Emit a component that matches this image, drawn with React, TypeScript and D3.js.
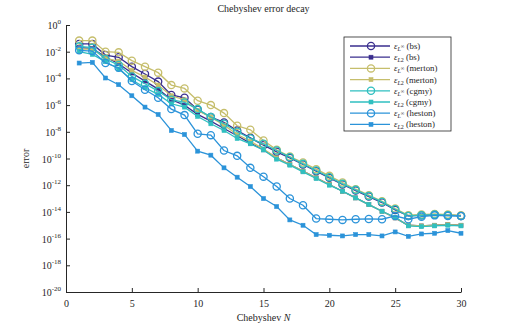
import React, { useRef, useEffect } from 'react';
import * as d3 from 'd3';

// Chebyshev degree N
const orders = d3.range(1, 31);

// errors, stored as log10 exponents
const bsLinf = [-1.42, -1.42, -2.25, -2.42, -3.12, -3.67, -4.24, -5.24, -5.45, -6.35, -6.9, -7.3, -7.9, -8.45, -9.0, -9.5, -9.95, -10.45, -10.95, -11.45, -11.95, -12.4, -12.85, -13.3, -13.85, -14.3, -14.25, -14.2, -14.25, -14.3];
const bsL2 = [-1.7, -1.75, -2.4, -2.9, -3.6, -4.2, -4.8, -5.6, -6.0, -6.7, -7.2, -7.75, -8.3, -8.85, -9.35, -9.95, -10.45, -10.95, -11.45, -11.95, -12.45, -12.95, -13.45, -13.95, -14.45, -15.0, -15.05, -15.0, -14.95, -15.0];
const mertonLinf = [-1.17, -1.17, -2.0, -2.05, -2.67, -3.12, -3.57, -4.5, -4.75, -5.67, -6.0, -6.6, -7.55, -7.85, -8.65, -9.35, -9.85, -10.3, -10.8, -11.3, -11.8, -12.3, -12.75, -13.2, -13.75, -14.25, -14.2, -14.15, -14.2, -14.25];
const mertonL2 = [-1.8, -1.8, -2.5, -2.7, -3.4, -3.9, -4.5, -5.3, -5.6, -6.4, -6.9, -7.5, -8.2, -8.7, -9.3, -9.95, -10.45, -10.95, -11.45, -11.95, -12.45, -12.95, -13.45, -13.95, -14.45, -15.0, -15.05, -15.0, -14.95, -15.0];
const cgmyLinf = [-1.6, -1.7, -2.55, -3.0, -3.85, -4.4, -4.95, -5.6, -5.8, -6.3, -6.9, -7.4, -8.0, -8.5, -8.9, -9.4, -9.9, -10.4, -10.9, -11.4, -11.9, -12.35, -12.8, -13.25, -13.8, -14.3, -14.25, -14.2, -14.25, -14.3];
const cgmyL2 = [-2.0, -2.2, -2.75, -3.3, -4.1, -4.7, -5.2, -5.9, -6.15, -6.85, -7.4, -7.9, -8.5, -8.9, -9.36, -10.05, -10.5, -11.0, -11.5, -12.0, -12.45, -12.95, -13.45, -13.95, -14.4, -15.05, -15.1, -15.05, -15.0, -15.05];
const hestonLinf = [-1.9, -1.95, -2.85, -3.2, -4.2, -4.85, -5.45, -6.3, -6.75, -8.15, -8.25, -9.4, -9.8, -10.7, -11.36, -12.1, -13.0, -13.5, -14.5, -14.55, -14.6, -14.55, -14.53, -14.55, -14.3, -14.55, -14.36, -14.26, -14.3, -14.3];
const hestonL2 = [-2.85, -2.8, -3.97, -4.47, -5.3, -6.15, -6.7, -7.9, -8.2, -9.45, -9.75, -10.7, -11.4, -12.1, -13.0, -13.6, -14.6, -15.0, -15.7, -15.75, -15.8, -15.7, -15.7, -15.8, -15.5, -15.83, -15.65, -15.6, -15.4, -15.6];

const xTicks = [0, 5, 10, 15, 20, 25, 30];
const yTickExps = [0, -2, -4, -6, -8, -10, -12, -14, -16, -18, -20];

const colors = { bs: '#3a2e8e', merton: '#c6be6c', cgmy: '#2fbfc0', heston: '#2b93d9' };

const series = [
  { model: 'bs', norm: 'inf', exps: bsLinf },
  { model: 'bs', norm: 'l2', exps: bsL2 },
  { model: 'merton', norm: 'inf', exps: mertonLinf },
  { model: 'merton', norm: 'l2', exps: mertonL2 },
  { model: 'cgmy', norm: 'inf', exps: cgmyLinf },
  { model: 'cgmy', norm: 'l2', exps: cgmyL2 },
  { model: 'heston', norm: 'inf', exps: hestonLinf },
  { model: 'heston', norm: 'l2', exps: hestonL2 },
];

const SERIF = '"Liberation Serif", "DejaVu Serif", serif';

const ErrorChart = () => {
  const ref = useRef(null);

  useEffect(() => {
    const width = 509;
    const height = 329;
    const m = { top: 25, right: 48, bottom: 37, left: 66 };

    const root = d3.select(ref.current);
    root.selectAll('*').remove();
    root.attr('width', width).attr('height', height);

    const x = d3.scaleLinear().domain([0, 30]).range([m.left, width - m.right]);
    const y = d3.scaleLog().domain([1e-20, 1]).range([height - m.bottom, m.top]);

    // axes (left + bottom only, ticks pointing inward)
    const xAxis = root.append('g')
      .attr('transform', `translate(0,${height - m.bottom})`)
      .call(d3.axisBottom(x).tickValues(xTicks).tickSizeInner(-4).tickSizeOuter(0).tickPadding(8));
    const yAxis = root.append('g')
      .attr('transform', `translate(${m.left},0)`)
      .call(d3.axisLeft(y).tickValues(yTickExps.map(e => Math.pow(10, e))).tickSizeInner(-4).tickSizeOuter(0).tickFormat(() => ''));

    [xAxis, yAxis].forEach(a => {
      a.select('.domain').attr('stroke', '#262626').attr('stroke-width', 1);
      a.selectAll('.tick line').attr('stroke', '#262626');
      a.selectAll('text').attr('font-family', SERIF).attr('font-size', 10).attr('fill', '#262626');
    });

    // y labels as 10^k with superscripts
    yTickExps.forEach(e => {
      const t = root.append('text')
        .attr('x', m.left - 5)
        .attr('y', y(Math.pow(10, e)) + 4)
        .attr('text-anchor', 'end')
        .attr('font-family', SERIF)
        .attr('font-size', 10)
        .attr('fill', '#262626');
      t.append('tspan').text('10');
      t.append('tspan').attr('dy', -5).attr('font-size', 7).text(String(e));
    });

    // title + axis labels
    root.append('text')
      .attr('x', (m.left + width - m.right) / 2)
      .attr('y', 12)
      .attr('text-anchor', 'middle')
      .attr('font-family', SERIF)
      .attr('font-size', 10)
      .attr('fill', '#262626')
      .text('Chebyshev error decay');

    const xl = root.append('text')
      .attr('x', (m.left + width - m.right) / 2)
      .attr('y', height - 8)
      .attr('text-anchor', 'middle')
      .attr('font-family', SERIF)
      .attr('font-size', 10)
      .attr('fill', '#262626');
    xl.append('tspan').text('Chebyshev ');
    xl.append('tspan').attr('font-style', 'italic').text('N');

    root.append('text')
      .attr('transform', `translate(29,${(m.top + height - m.bottom) / 2}) rotate(-90)`)
      .attr('text-anchor', 'middle')
      .attr('font-family', SERIF)
      .attr('font-size', 10)
      .attr('fill', '#262626')
      .text('error');

    // lines and markers
    const line = d3.line()
      .x((d, i) => x(orders[i]))
      .y(d => y(d));

    const drawMarker = (g, norm, color, cx, cy) => {
      if (norm === 'inf') {
        g.append('circle').attr('cx', cx).attr('cy', cy).attr('r', 3.6)
          .attr('fill', 'none').attr('stroke', color).attr('stroke-width', 1.3);
      } else {
        g.append('rect').attr('x', cx - 2).attr('y', cy - 2).attr('width', 4).attr('height', 4)
          .attr('fill', color).attr('stroke', color).attr('stroke-width', 0.6);
      }
    };

    series.forEach(s => {
      const color = colors[s.model];
      const vals = s.exps.map(e => Math.pow(10, e));
      const g = root.append('g');
      g.append('path')
        .datum(vals)
        .attr('d', line)
        .attr('fill', 'none')
        .attr('stroke', color)
        .attr('stroke-width', 1.3);
      vals.forEach((v, i) => drawMarker(g, s.norm, color, x(orders[i]), y(v)));
    });

    // legend
    const lg = root.append('g').attr('transform', 'translate(344,37)');
    lg.append('rect')
      .attr('width', 107).attr('height', 94)
      .attr('fill', 'white').attr('stroke', '#262626').attr('stroke-width', 0.8);

    series.forEach((s, i) => {
      const color = colors[s.model];
      const ly = 9 + i * 11.2;
      lg.append('line').attr('x1', 6).attr('x2', 46).attr('y1', ly).attr('y2', ly)
        .attr('stroke', color).attr('stroke-width', 1.3);
      drawMarker(lg, s.norm, color, 27, ly);
      const t = lg.append('text')
        .attr('x', 50).attr('y', ly + 3)
        .attr('font-family', SERIF)
        .attr('font-size', 8.8)
        .attr('fill', '#262626');
      t.append('tspan').attr('font-style', 'italic').text('\u03B5');
      t.append('tspan').attr('dy', 2).attr('font-size', 6).attr('font-style', 'italic').text('L');
      if (s.norm === 'inf') {
        t.append('tspan').attr('dy', -3).attr('font-size', 5).text('\u221E');
        t.append('tspan').attr('dy', 1).text(' ');
      } else {
        t.append('tspan').attr('font-size', 6).text('2');
        t.append('tspan').attr('dy', -2).text(' ');
      }
      t.append('tspan').text(`(${s.model})`);
    });
  }, []);

  return <svg ref={ref} style={{ display: 'block', position: 'absolute', left: 0, top: 0 }}></svg>;
};

export default function App() {
  return <ErrorChart />;
}
